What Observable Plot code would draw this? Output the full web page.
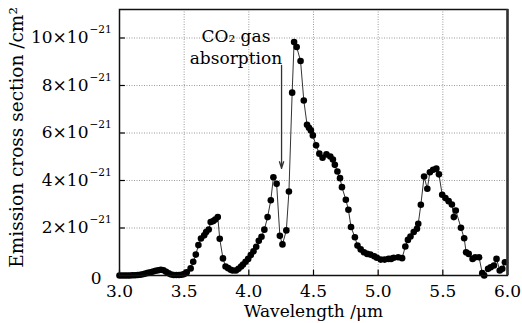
<!DOCTYPE html>
<html>
<head>
<meta charset="utf-8">
<script src="https://cdn.jsdelivr.net/npm/d3@7"></script>
<script src="https://cdn.jsdelivr.net/npm/@observablehq/plot@0.6"></script>
<style>
  body { margin: 0; background: #fff; }
  #chart svg { display: block; }
</style>
</head>
<body>
<div id="chart"></div>
<script>
// Wavelength (µm)
const wavelength = [
  3.00, 3.02, 3.04, 3.06, 3.08, 3.10, 3.12, 3.14, 3.16, 3.18,
  3.20, 3.22, 3.24, 3.26, 3.28, 3.30, 3.32, 3.34, 3.36, 3.38,
  3.40, 3.42, 3.44, 3.46, 3.48, 3.50, 3.52, 3.55, 3.57, 3.59,
  3.61, 3.63, 3.655, 3.67, 3.69, 3.705, 3.725, 3.74, 3.76, 3.775,
  3.80, 3.82, 3.84, 3.86, 3.875, 3.90, 3.92, 3.94, 3.955, 3.975,
  3.995, 4.015, 4.036, 4.057, 4.077, 4.098, 4.12, 4.145, 4.17, 4.19,
  4.215, 4.24, 4.26, 4.29, 4.31, 4.335, 4.35, 4.37, 4.40, 4.425,
  4.45, 4.465, 4.48, 4.495, 4.52, 4.545, 4.57, 4.60, 4.63, 4.65,
  4.665, 4.685, 4.705, 4.72, 4.75, 4.77, 4.79, 4.82, 4.84, 4.865,
  4.89, 4.915, 4.94, 4.97, 4.99, 5.02, 5.05, 5.08, 5.10, 5.12,
  5.155, 5.185, 5.21, 5.23, 5.25, 5.275, 5.30, 5.31, 5.33, 5.355,
  5.38, 5.40, 5.425, 5.45, 5.47, 5.495, 5.52, 5.545, 5.57, 5.585,
  5.60, 5.64, 5.665, 5.68, 5.70, 5.73, 5.75, 5.78, 5.805, 5.82,
  5.85, 5.87, 5.895, 5.915, 5.94, 5.96, 5.98
];
// Emission cross section (×10^-21 cm²)
const crossSection = [
  0.00, 0.00, 0.00, 0.00, 0.00, 0.01, 0.01, 0.02, 0.03, 0.05,
  0.08, 0.11, 0.14, 0.17, 0.20, 0.22, 0.24, 0.22, 0.16, 0.09,
  0.04, 0.02, 0.02, 0.02, 0.03, 0.06, 0.14, 0.30, 0.58, 0.88,
  1.28, 1.56, 1.69, 1.83, 1.94, 2.25, 2.29, 2.36, 2.46, 1.55,
  0.72, 0.38, 0.31, 0.24, 0.21, 0.21, 0.28, 0.38, 0.46, 0.58,
  0.70, 0.86, 1.02, 1.21, 1.46, 1.63, 1.93, 2.46, 3.17, 4.14,
  3.86, 1.67, 1.31, 1.90, 3.54, 7.70, 9.83, 9.62, 9.03, 7.37,
  6.35, 6.22, 6.11, 5.90, 5.48, 5.13, 4.96, 5.10, 5.01, 4.88,
  4.66, 4.38, 4.10, 3.72, 3.19, 2.77, 2.04, 1.61, 1.26, 1.10,
  0.98, 0.91, 0.88, 0.81, 0.75, 0.67, 0.67, 0.70, 0.70, 0.75,
  0.77, 0.73, 1.22, 1.50, 1.64, 1.83, 1.97, 2.18, 2.98, 4.17,
  3.65, 4.35, 4.45, 4.50, 4.26, 3.40, 3.26, 3.13, 2.99, 2.46,
  2.74, 2.01, 1.57, 0.98, 0.91, 0.70, 0.77, 0.77, 0.10, 0.00,
  0.28, 0.35, 0.42, 0.70, 0.21, 0.28, 0.56
];

const xTicks = [3.0, 3.5, 4.0, 4.5, 5.0, 5.5, 6.0];
const xTickLabels = ["3.0", "3.5", "4.0", "4.5", "5.0", "5.5", "6.0"];
const yTicks = [0, 2, 4, 6, 8, 10];
const yZeroLabel = "0";
const yTickMantissa = ["2×10", "4×10", "6×10", "8×10", "10×10"];
const yTickExponent = "−21";
const xTitle = "Wavelength /μm";
const yTitle = "Emission cross section /cm²";
const annotationLines = ["CO₂ gas", "absorption"];
const annotationAt = [3.9, 10.47];
const arrowFrom = [4.253, 8.85];
const arrowTo = [4.253, 4.51];

const points = wavelength.map((w, i) => ({w, s: crossSection[i]}));
const gridX = xTicks.slice(1, -1);
const gridY = yTicks.slice(1);
const yNonZero = yTicks.filter(d => d !== 0);

const SERIF = "DejaVu Serif";

const plot = Plot.plot({
  width: 522,
  height: 323,
  marginLeft: 119,
  marginRight: 15,
  marginTop: 9,
  marginBottom: 48,
  style: {background: "#fff", color: "#000"},
  x: {domain: [3, 6], axis: null},
  y: {domain: [0, 11.2], axis: null},
  marks: [
    Plot.ruleX(gridX, {stroke: "#9a9a9a", strokeWidth: 1, strokeDasharray: "1,1.5"}),
    Plot.ruleY(gridY, {stroke: "#9a9a9a", strokeWidth: 1, strokeDasharray: "1,1.5"}),
    Plot.line(points, {x: "w", y: "s", stroke: "#333", strokeWidth: 1}),
    Plot.dot(points, {x: "w", y: "s", r: 3.3, fill: "#000", stroke: null}),
    Plot.ruleX(xTicks, {y1: 0, y2: 0.22, stroke: "#000", strokeWidth: 1.2}),
    Plot.ruleY(yTicks, {x1: 3, x2: 3.045, stroke: "#000", strokeWidth: 1.2}),
    Plot.frame({stroke: "#111", strokeWidth: 1.5}),
    Plot.ruleX([6], {stroke: "#333", strokeWidth: 2.5}),
    // x tick labels
    Plot.text(xTicks, {x: d => d, text: (d, i) => xTickLabels[i], frameAnchor: "bottom", lineAnchor: "top", dy: 9, fontFamily: SERIF, fontSize: 17, fill: "#000"}),
    // y tick labels: mantissa, superscript exponent, and zero
    Plot.text(yNonZero, {y: d => d, text: (d, i) => yTickMantissa[i], frameAnchor: "left", textAnchor: "end", dx: -31, fontFamily: SERIF, fontSize: 17, fill: "#000"}),
    Plot.text(yNonZero, {y: d => d, text: () => yTickExponent, frameAnchor: "left", textAnchor: "start", dx: -30, dy: -8, fontFamily: SERIF, fontSize: 10.5, fill: "#000"}),
    Plot.text([0], {y: d => d, text: () => yZeroLabel, frameAnchor: "left", textAnchor: "end", dx: -18, dy: 3, fontFamily: SERIF, fontSize: 17, fill: "#000"}),
    // axis titles
    Plot.text([yTitle], {frameAnchor: "left", textAnchor: "middle", rotate: -90, dx: -102, dy: -5, fontFamily: SERIF, fontSize: 18.5}),
    Plot.text([xTitle], {frameAnchor: "bottom", textAnchor: "middle", lineAnchor: "top", dy: 29, fontFamily: SERIF, fontSize: 17}),
    // annotation
    Plot.text([annotationLines.join("\n")], {x: () => annotationAt[0], y: () => annotationAt[1], lineAnchor: "top", lineHeight: 1.28, fontFamily: SERIF, fontSize: 17}),
    Plot.arrow([{a: arrowFrom, b: arrowTo}], {x1: d => d.a[0], y1: d => d.a[1], x2: d => d.b[0], y2: d => d.b[1], stroke: "#333", strokeWidth: 1.3, headLength: 8, headAngle: 35})
  ]
});

document.getElementById("chart").appendChild(plot);
</script>
</body>
</html>
